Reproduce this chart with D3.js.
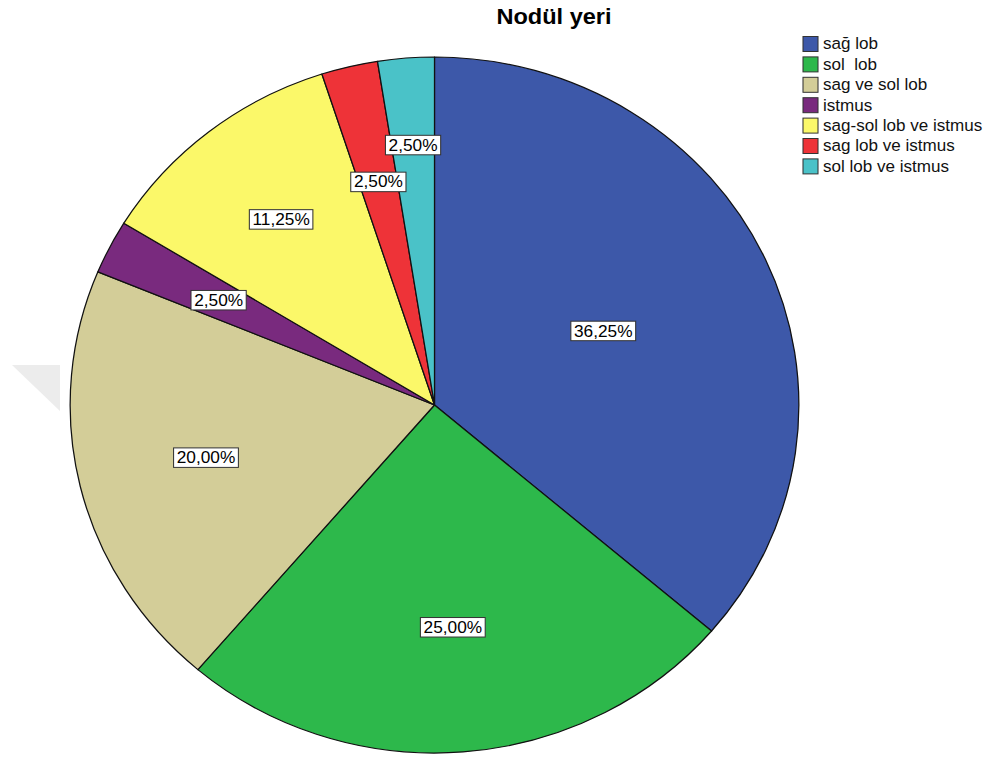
<!DOCTYPE html>
<html><head><meta charset="utf-8">
<script src="https://cdn.jsdelivr.net/npm/d3@7/dist/d3.min.js"></script>
<style>body{margin:0;background:#fff}svg{display:block}text{white-space:pre}</style>
</head><body>
<svg id="c" width="986" height="758"></svg>
<script>
const title = "Nodül yeri";
const categories = ["sağ lob","sol  lob","sag ve sol lob","istmus","sag-sol lob ve istmus","sag lob ve istmus","sol lob ve istmus"];
const values = [36.25, 25.00, 20.00, 2.50, 11.25, 2.50, 2.50];
const colors = ["#3d58a9","#2db84b","#d3cd98","#792a7e","#fbf869","#ee3338","#4ac2c8"];
const labelRadius = [0.51, 0.64, 0.645, 0.665, 0.68, 0.66, 0.75];

const SX = 1.047;
const X = px => px / SX;
const svg = d3.select("#c");
const root = svg.append("g").attr("transform", `scale(${SX},1)`);

// faint background mark
root.append("path").attr("d", `M${X(12)},365 L${X(60)},365 L${X(60)},411 Z`).attr("fill", "#ececec");

// title
root.append("text").attr("x", X(554)).attr("y", 24).attr("text-anchor", "middle")
  .attr("font-family", "Liberation Sans, Arial, sans-serif").attr("font-weight", "bold")
  .attr("font-size", 22.5).attr("fill", "#000").text(title);

const R = 348;
const cx = X(434.5), cy = 405;
const pie = d3.pie().sort(null).value(d => d)(values);
const arc = d3.arc().innerRadius(0).outerRadius(R);
const g = root.append("g").attr("transform", `translate(${cx},${cy})`);
g.selectAll("path.s").data(pie).join("path").attr("class", "s")
  .attr("d", arc).attr("fill", (d, i) => colors[i])
  .attr("stroke", "#111").attr("stroke-width", 1.2).attr("stroke-linejoin", "round");

const fmt = v => v.toFixed(2).replace(".", ",") + "%";
pie.forEach((d, i) => {
  const a = (d.startAngle + d.endAngle) / 2;
  const r = R * labelRadius[i];
  const x = r * Math.sin(a), y = -r * Math.cos(a);
  const lg = g.append("g").attr("transform", `translate(${x},${y})`);
  const t = lg.append("text").attr("text-anchor", "middle").attr("y", 5.8)
    .attr("font-family", "Liberation Sans, Arial, sans-serif").attr("font-size", 16.5)
    .attr("fill", "#000").text(fmt(values[i]));
  const w = t.node().getComputedTextLength() + 6;
  lg.insert("rect", "text").attr("x", -w / 2).attr("y", -9.5).attr("width", w).attr("height", 19.5)
    .attr("fill", "#fff").attr("stroke", "#333").attr("stroke-width", 1);
});

// legend
const lgd = root.append("g");
categories.forEach((c, i) => {
  const yc = 44 + i * 20.4;
  lgd.append("rect").attr("x", X(803)).attr("y", yc - 7.5).attr("width", X(818) - X(803)).attr("height", 15)
    .attr("fill", colors[i]).attr("stroke", "#333").attr("stroke-width", 1);
  lgd.append("text").attr("x", X(823)).attr("y", yc + 5.5)
    .attr("font-family", "Liberation Sans, Arial, sans-serif").attr("font-size", 16.3)
    .attr("fill", "#111").text(c);
});
</script>
</body></html>
